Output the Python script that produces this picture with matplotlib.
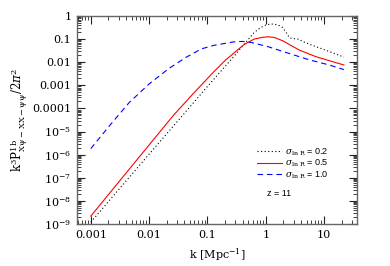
import matplotlib
matplotlib.use("Agg")
import matplotlib.pyplot as plt
from matplotlib.ticker import LogLocator, FixedLocator, FixedFormatter, NullFormatter

# ---- data ----
k_s02 = [0.001, 0.00316, 0.01, 0.0339, 0.1, 0.282, 0.427, 0.631, 0.794, 1.0, 1.20, 1.38,
         1.66, 1.95, 2.29, 2.51, 2.82, 3.31, 3.72, 4.27, 6.31, 10.7, 19.5, 21.9]
p_s02 = [1.2e-9, 3.55e-8, 1.05e-6, 3.72e-5, 8.9e-4, 0.0174, 0.0603, 0.191, 0.302, 0.407, 0.447, 0.447,
         0.398, 0.316, 0.178, 0.120, 0.105, 0.105, 0.0977, 0.0794, 0.0537, 0.0331, 0.0186, 0.0170]

k_s05 = [0.001, 0.00316, 0.01, 0.0263, 0.0575, 0.129, 0.2, 0.282, 0.427, 0.631, 0.891, 1.12,
         1.41, 1.95, 2.69, 3.72, 7.24, 14.1, 21.9]
p_s05 = [2.19e-9, 7.59e-8, 2.63e-6, 5.13e-5, 4.47e-4, 3.89e-3, 0.01175, 0.0245, 0.0589, 0.1, 0.120, 0.126,
         0.117, 0.0851, 0.0537, 0.0339, 0.0174, 0.0105, 0.00759]

k_s10 = [0.001, 0.00209, 0.00457, 0.01, 0.0219, 0.0427, 0.0794, 0.129, 0.282, 0.398, 0.550,
         1.07, 2.51, 5.62, 12.3, 21.9]
p_s10 = [1.82e-6, 1.78e-5, 1.82e-4, 1.15e-3, 5.37e-3, 0.0162, 0.038, 0.0537, 0.0759, 0.0794, 0.0724,
         0.0479, 0.024, 0.0126, 0.00759, 0.00479]

labels = [r"$\sigma_{\rm ln\ R}$ = 0.2", r"$\sigma_{\rm ln\ R}$ = 0.5", r"$\sigma_{\rm ln\ R}$ = 1.0"]
x_ticks = [0.001, 0.01, 0.1, 1, 10]
x_ticklabels = ["0.001", "0.01", "0.1", "1", "10"]
y_ticks = [1e-9, 1e-8, 1e-7, 1e-6, 1e-5, 1e-4, 1e-3, 1e-2, 1e-1, 1]
y_ticklabels = [r"10$^{-9}$", r"10$^{-8}$", r"10$^{-7}$", r"10$^{-6}$", r"10$^{-5}$",
                "0.0001", "0.001", "0.01", "0.1", "1"]

plt.rcParams["mathtext.fontset"] = "dejavuserif"
plt.rcParams["font.family"] = "DejaVu Serif"

fig = plt.figure(figsize=(3.9, 2.66), dpi=100)
ax = fig.add_axes([77/390, 1 - 224/266, 280/390, 208/266])

ax.plot(k_s02, p_s02, color="black", lw=0.8, linestyle=(0, (1, 2.2)), label=labels[0])
ax.plot(k_s05, p_s05, color="#ff0000", lw=0.8, label=labels[1])
ax.plot(k_s10, p_s10, color="#0000ff", lw=0.8, linestyle=(0, (5, 3.5)), label=labels[2])

ax.set_xscale("log")
ax.set_yscale("log")
ax.set_xlim(5.8e-4, 36.7)
ax.set_ylim(1e-9, 1)

ax.xaxis.set_major_locator(FixedLocator(x_ticks))
ax.xaxis.set_major_formatter(FixedFormatter(x_ticklabels))
ax.yaxis.set_major_locator(FixedLocator(y_ticks))
ax.yaxis.set_major_formatter(FixedFormatter(y_ticklabels))
ax.xaxis.set_minor_locator(LogLocator(base=10, subs=range(2, 10), numticks=20))
ax.yaxis.set_minor_locator(LogLocator(base=10, subs=range(2, 10), numticks=20))
ax.xaxis.set_minor_formatter(NullFormatter())
ax.yaxis.set_minor_formatter(NullFormatter())

ax.tick_params(which="both", direction="in", top=True, right=True, color="#222222")
ax.tick_params(which="major", length=6, width=0.8, pad=4)
ax.tick_params(which="minor", length=3, width=0.6)
for lab in ax.get_xticklabels() + ax.get_yticklabels():
    lab.set_fontsize(8)
for s in ax.spines.values():
    s.set_color("#666666")
    s.set_linewidth(1.0)

ax.set_xlabel(r"k [Mpc$^{-1}$]", fontsize=8, labelpad=5)
ax.set_ylabel(r"k$^3$P$^{\rm 1b}_{\rm X\psi-XX-\psi\psi}$/2$\pi^2$", fontsize=8.5, labelpad=2)

leg = ax.legend(loc="upper left", bbox_to_anchor=(0.63, 0.39), frameon=False,
                handlelength=2.8, handletextpad=0.3, labelspacing=0.0,
                borderaxespad=0, prop={"family": "Liberation Sans", "size": 6.5})
ax.text(0.68, 0.145, "z = 11", transform=ax.transAxes, fontsize=6.5,
        family="Liberation Sans", va="center", ha="left")

fig.savefig("out.png", dpi=100)
